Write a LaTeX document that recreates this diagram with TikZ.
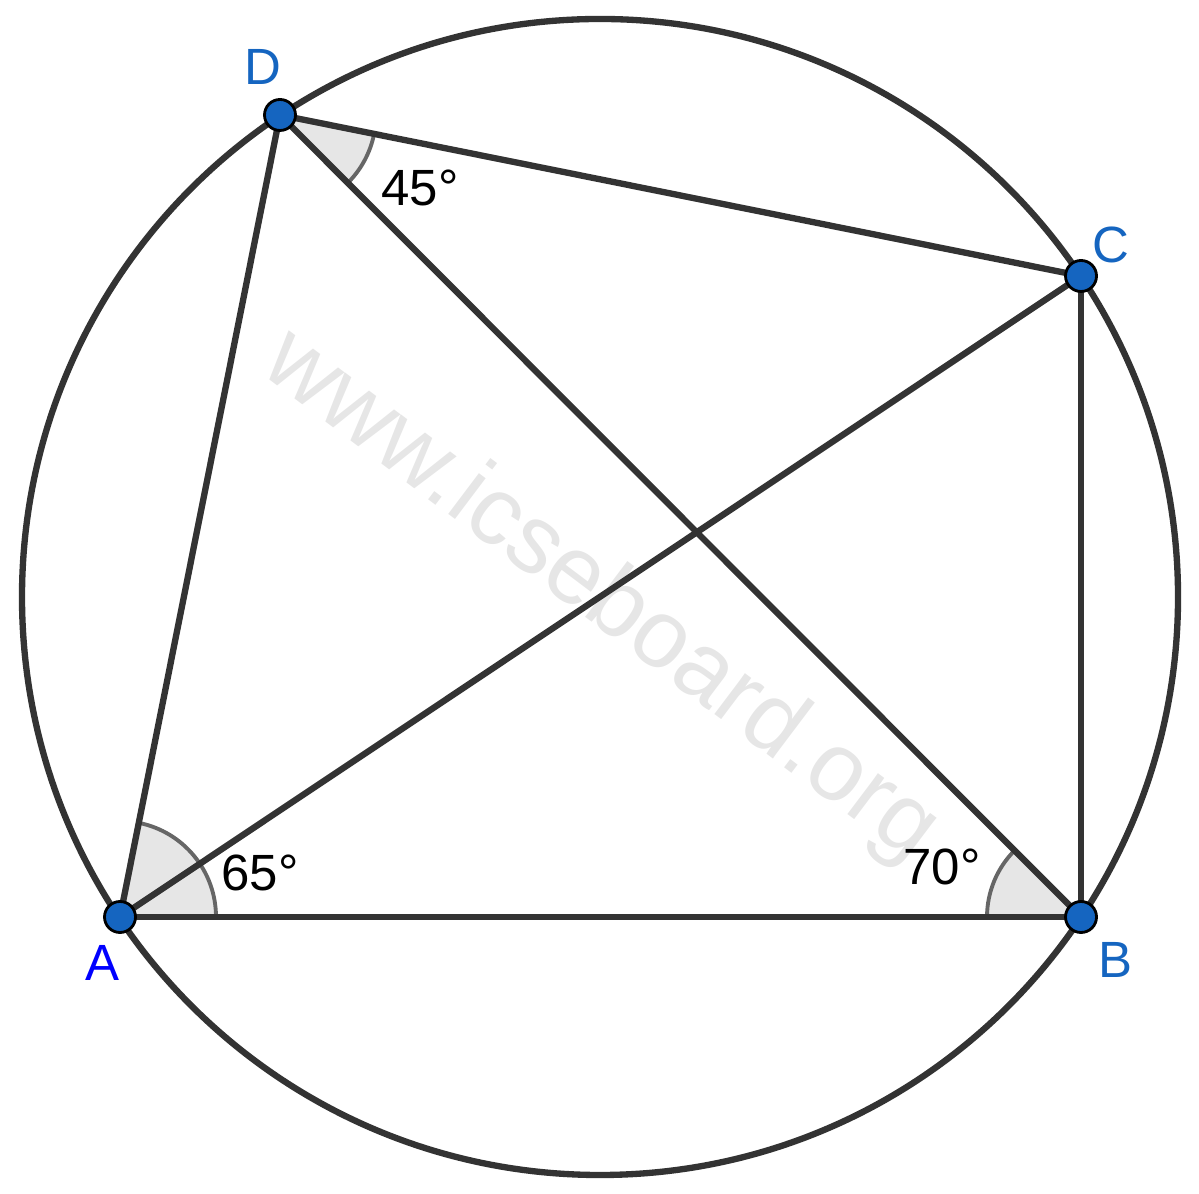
\documentclass[tikz,border=0pt]{standalone}
\usepackage{fontspec}
\setmainfont{Liberation Sans}
\usepackage{tikz}
\definecolor{segcol}{HTML}{333333}
\definecolor{ptblue}{HTML}{1565C0}
\definecolor{angfill}{HTML}{E6E6E6}
\definecolor{angline}{HTML}{666666}
\definecolor{wmgray}{HTML}{E6E6E6}
\tikzset{
  seg/.style={draw=segcol, line width=1.8pt},
  sector/.style={fill=angfill, draw=angline, line width=1.1pt},
  pt/.style={circle, fill=ptblue, draw=black, line width=0.8pt, inner sep=0pt, minimum size=0.31cm},
  lbl/.style={text=ptblue, font=\fontsize{14.5}{17}\selectfont},
  anglbl/.style={font=\fontsize{14.5}{17}\selectfont}
}

\begin{document}
\begin{tikzpicture}
  \useasboundingbox (0,0) rectangle (11.99,11.93);
  \coordinate (O) at (6.00, 5.96);
  \coordinate (A) at (1.20, 2.76);
  \coordinate (B) at (10.81, 2.76);
  \coordinate (C) at (10.81, 9.17);
  \coordinate (D) at (2.80, 10.78);
  % watermark
  \node (W) at (6.00, 5.96) [rotate=-37, text=wmgray, font=\fontsize{27.5}{30}\selectfont] {www.icseboard.org};
  % angle sectors
  \path [sector] (A) -- ++(0:0.96) arc [start angle=0, end angle=78.7, radius=0.96] -- cycle;
  \path [sector] (D) -- ++(-11.4:0.96) arc [start angle=-11.4, end angle=-45.0, radius=0.96] -- cycle;
  \path [sector] (B) -- ++(135.0:0.94) arc [start angle=135.0, end angle=180, radius=0.94] -- cycle;
  % circle and chords
  \draw [seg] (O) circle [radius=5.78];
  \draw [seg] (A) -- (B);
  \draw [seg] (B) -- (C);
  \draw [seg] (C) -- (D);
  \draw [seg] (D) -- (A);
  \draw [seg] (A) -- (C);
  \draw [seg] (D) -- (B);
  % points
  \foreach \p in {A,B,C,D}
    \node [pt] (dot\p) at (\p) {};
  \node [lbl, text=blue] (labA) at (1.02, 2.30) {A};
  \node [lbl] (labB) at (11.15, 2.33) {B};
  \node [lbl] (labC) at (11.11, 9.48) {C};
  \node [lbl] (labD) at (2.63, 11.26) {D};
  % angle values
  \node [anglbl] (angA) at (2.60, 3.20) {65°};
  \node [anglbl] (angD) at (4.20, 10.05) {45°};
  \node [anglbl] (angB) at (9.42, 3.26) {70°};
\end{tikzpicture}
\end{document}
